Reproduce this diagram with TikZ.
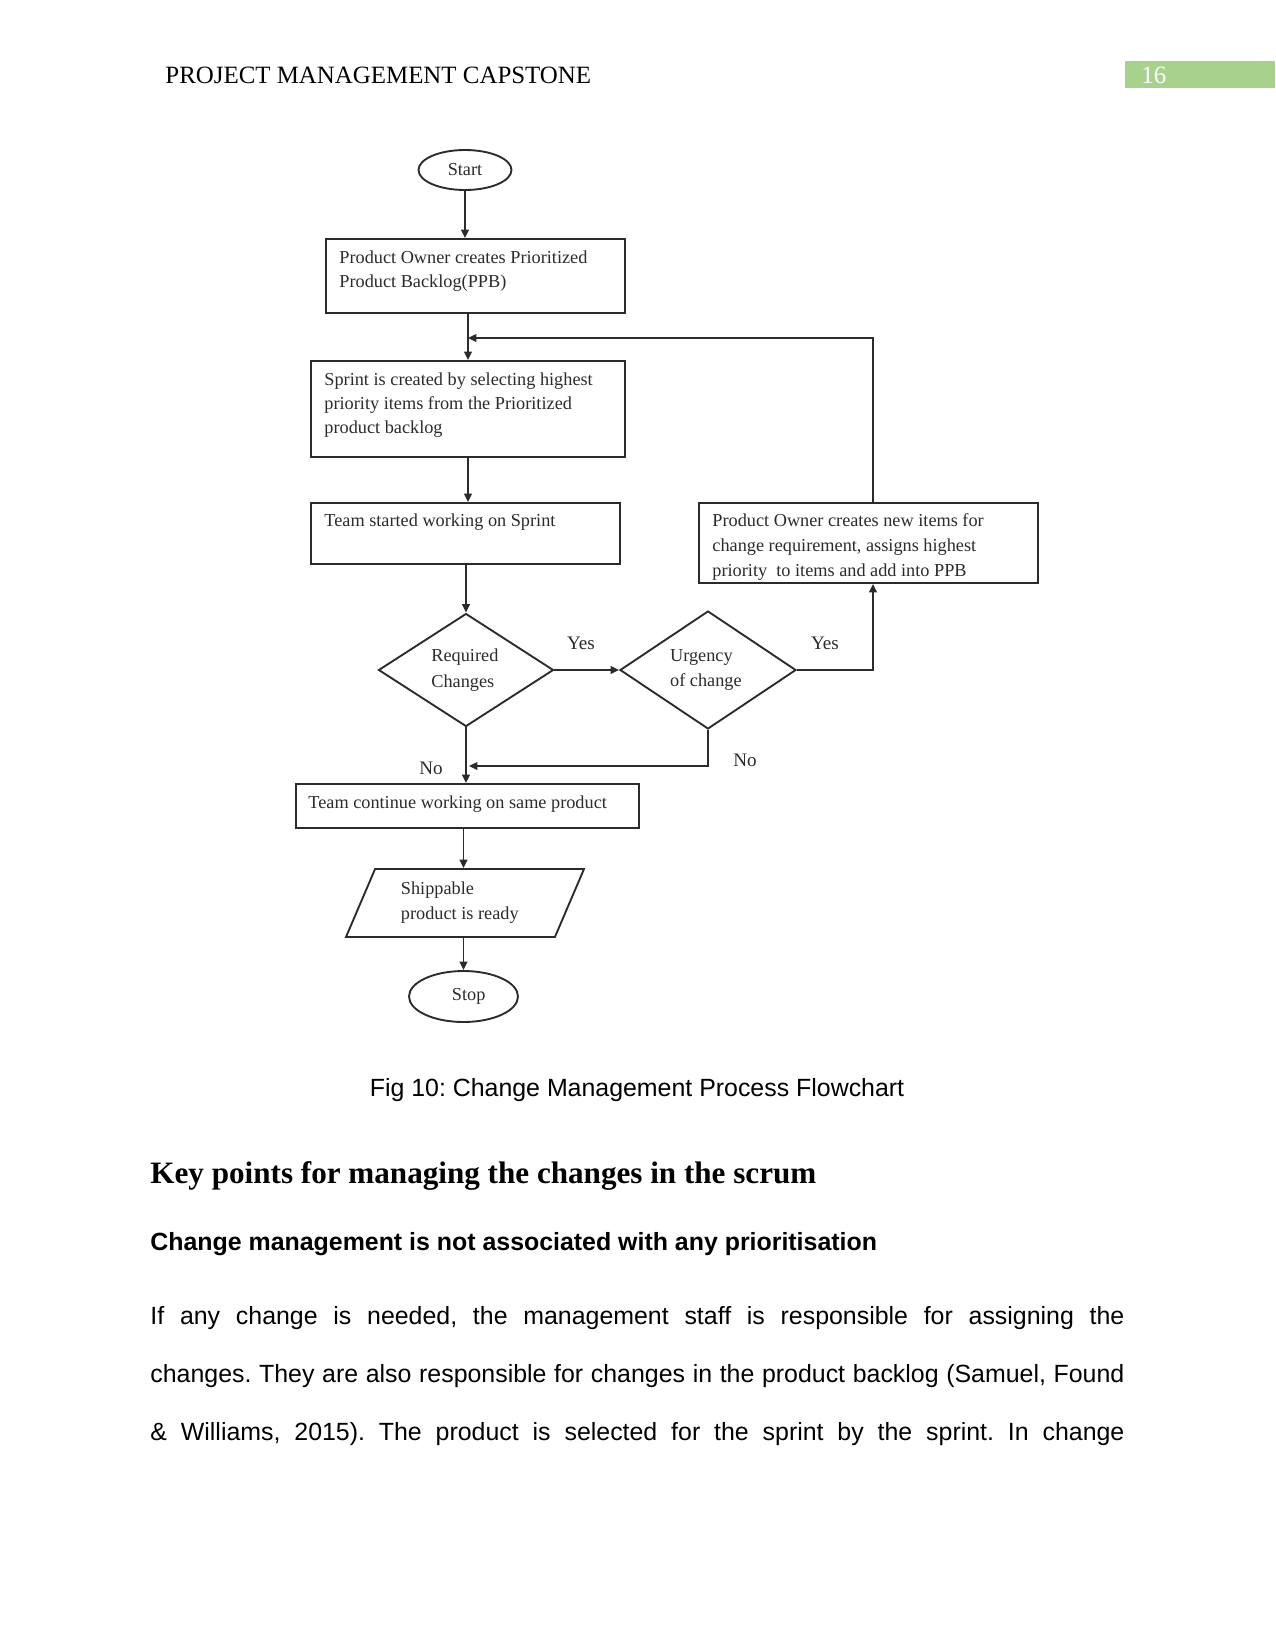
\documentclass[tikz,border=0pt]{standalone}
\usepackage{fontspec}
\setmainfont{Liberation Serif}
\setsansfont{Liberation Sans}
\usetikzlibrary{arrows.meta,positioning,shapes.geometric,fit,calc}
\definecolor{pagegreen}{HTML}{A9D18E}
\definecolor{flowline}{HTML}{2B2B2B}
\newcommand{\px}{0.48bp}
\frenchspacing

\tikzset{
  flow/.style={draw=flowline, line width=0.9bp},
  procbox/.style={flow, inner sep=0pt, fit={#1}},
  flowtxt/.style={font=\fontsize{8.8}{11.6}\selectfont, align=left, inner sep=0pt, anchor=north west, text=flowline},
  terminal/.style={flow, ellipse, inner sep=0pt, text=flowline, font=\fontsize{8.8}{11.6}\selectfont},
  decision/.style={flow, diamond, inner sep=0pt, align=left, text=flowline, font=\fontsize{8.8}{12.4}\selectfont},
  answer/.style={font=\fontsize{9.2}{11}\selectfont, inner sep=0pt, text=flowline},
  arrow/.style={flow, -{Triangle[length=4bp,width=3.6bp]}},
  bodytxt/.style={font=\sffamily\fontsize{12}{14}\selectfont, inner sep=0pt, anchor=base west},
}

\begin{document}
\begin{tikzpicture}[x=0.48bp, y=-0.48bp]
  \useasboundingbox (0,0) rectangle (1275,1650);

  % running head
  \node[font=\fontsize{12}{14}\selectfont, anchor=base west, inner sep=0pt] (head) at (165,83) {PROJECT MANAGEMENT CAPSTONE};
  \node[fill=pagegreen, inner sep=0pt, fit={(1125,61) (1275,88)}] (pagebox) {};
  \node[font=\fontsize{12}{14}\selectfont, text=white, anchor=base west, inner sep=0pt] (pagenum) at (1141,83) {16};

  % flowchart
  \node[terminal, minimum width=93*\px, minimum height=40*\px] (start) at (465,170) {Start};

  \node[procbox={(326,239) (625,313)}] (owner) {};
  \node[flowtxt] (owner-t) at (339,250) {Product Owner creates Prioritized\\Product Backlog(PPB)};

  \node[procbox={(311,361) (625,457)}] (sprint) {};
  \node[flowtxt] (sprint-t) at (324,372) {Sprint is created by selecting highest\\priority items from the Prioritized\\product backlog};

  \node[procbox={(311,503) (620,564)}] (team) {};
  \node[flowtxt] (team-t) at (324,513) {Team started working on Sprint};

  \node[procbox={(699,503) (1038,583)}] (newitems) {};
  \node[flowtxt, font=\fontsize{8.8}{12}\selectfont] (newitems-t) at (712,513) {Product Owner creates new items for\\change requirement, assigns highest\\priority\ \ to items and add into PPB};

  \node[decision, minimum width=175*\px, minimum height=113*\px] (reqd) at (466,670) {Required\\Changes\hspace*{3bp}};
  \node[decision, minimum width=176*\px, minimum height=118*\px] (urg) at (708,670) {Urgency\\of change\hspace*{2bp}};

  \node[procbox={(296,784) (639,828)}] (cont) {};
  \node[flowtxt] (cont-t) at (308,795) {Team continue working on same product};

  \node[flow, trapezium, trapezium left angle=55, trapezium right angle=125, trapezium stretches body,
        minimum width=238*\px, minimum height=68*\px, inner sep=0pt, align=left, text=flowline,
        font=\fontsize{8.8}{12}\selectfont] (ship) at (465,903) {Shippable\\product is ready\hspace*{5bp}};

  \node[terminal, minimum width=109*\px, minimum height=51*\px] (stop) at (463.5,996.5) {\hspace*{5bp}Stop};

  % connectors
  \coordinate (loop) at (873,338);
  \coordinate (merge) at (469,766);
  \draw[arrow] (start.south) -- (start.south |- owner.north);
  \draw[arrow] (sprint.north |- owner.south) -- (sprint.north);
  \draw[arrow] (loop |- newitems.north) -- (loop) -- (loop -| sprint.north);
  \draw[arrow] (sprint.south) -- (sprint.south |- team.north);
  \draw[arrow] (team.south -| reqd.north) -- (reqd.north);
  \draw[arrow] (reqd.east) -- (urg.west);
  \draw[arrow] (urg.east) -| (loop |- newitems.south);
  \draw[arrow] (urg.south) |- (merge);
  \draw[arrow] (reqd.south) -- (reqd.south |- cont.north);
  \draw[arrow] (stop.north |- cont.south) -- (stop.north |- ship.north);
  \draw[arrow] (stop.north |- ship.south) -- (stop.north);

  % branch labels
  \node[answer] (yes1) at (581,643) {Yes};
  \node[answer] (yes2) at (825,643) {Yes};
  \node[answer] (no1) at (431,768) {No};
  \node[answer] (no2) at (745,760) {No};

  % caption and body text
  \node[bodytxt, anchor=base] (caption) at (637,1096) {Fig 10: Change Management Process Flowchart};
  \node[font=\bfseries\fontsize{15}{17}\selectfont, anchor=base west, inner sep=0pt] (keyhead) at (150,1183) {Key points for managing the changes in the scrum};
  \node[bodytxt, font=\sffamily\bfseries\fontsize{12}{14}\selectfont] (subhead) at (150,1250) {Change management is not associated with any prioritisation};
  \node[bodytxt] (para1) at (150,1324) {\makebox[467.5bp][s]{If any change is needed, the management staff is responsible for assigning the}};
  \node[bodytxt] (para2) at (150,1382) {\makebox[467.5bp][s]{changes. They are also responsible for changes in the product backlog (Samuel, Found}};
  \node[bodytxt] (para3) at (150,1440) {\makebox[467.5bp][s]{\& Williams, 2015). The product is selected for the sprint by the sprint. In change}};
\end{tikzpicture}
\end{document}
